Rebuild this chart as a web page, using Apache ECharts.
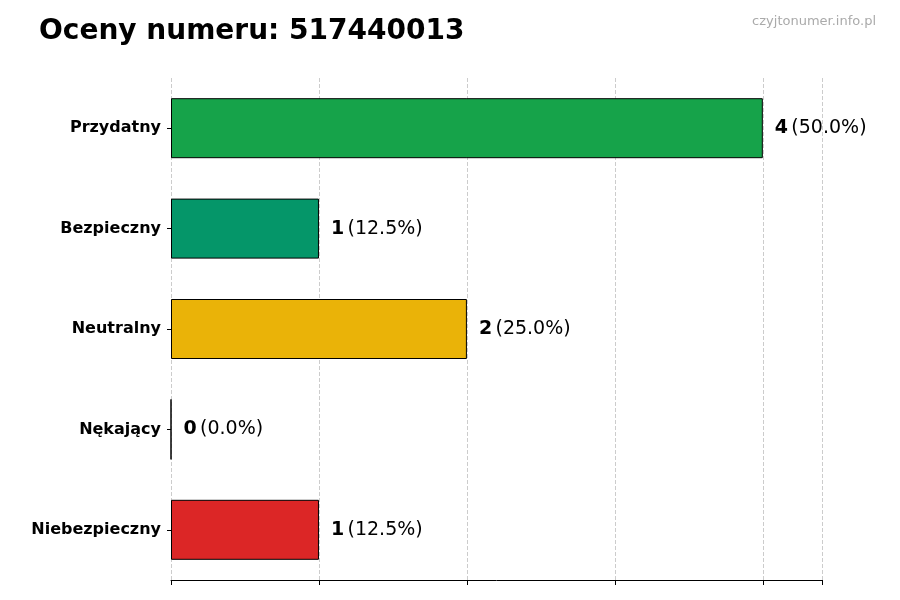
<!DOCTYPE html>
<html><head><meta charset="utf-8">
<script src="https://cdn.jsdelivr.net/npm/echarts@6/dist/echarts.min.js"></script>
<style>html,body{margin:0;padding:0;background:#fff}#c{width:900px;height:600px}</style>
</head><body><div id="c"></div>
<script>
const categories = ["Przydatny","Bezpieczny","Neutralny","Nękający","Niebezpieczny"];
const values = [4,1,2,0,1];
const percents = ["50.0%","12.5%","25.0%","0.0%","12.5%"];
const colors = ["#16a34a","#059669","#eab308","#9ca3af","#dc2626"];
const chart = echarts.init(document.getElementById('c'));
chart.setOption({
  animation:false,
  title:[{text:"Oceny numeru: 517440013",left:34,top:13,textStyle:{fontFamily:"DejaVu Sans",fontSize:28,fontWeight:"bold",color:"#000"}},
         {text:"czyjtonumer.info.pl",right:19,top:10,textStyle:{fontFamily:"DejaVu Sans",fontSize:13,fontWeight:"normal",color:"#aaa"}}],
  grid:{left:171,right:78,top:78,bottom:20},
  xAxis:{type:"value",min:0,max:4.4,interval:1,
    axisLine:{show:true,lineStyle:{color:"#000"}},axisTick:{show:true,length:5,lineStyle:{color:"#000"}},
    axisLabel:{show:false},splitLine:{show:true,lineStyle:{type:"dashed",color:"#ccc"}}},
  yAxis:{type:"category",inverse:true,data:categories,
    axisLine:{show:false},axisTick:{show:true,alignWithLabel:true,length:4,lineStyle:{color:"#000"}},
    axisLabel:{fontFamily:"DejaVu Sans",fontSize:16,fontWeight:"bold",color:"#000",margin:10}},
  series:[{type:"bar",barWidth:60,
    data:values.map((v,i)=>({value:v,itemStyle:{color:colors[i],borderColor:"#000",borderWidth:1}})),
    label:{show:true,position:"right",distance:12,
      formatter:p=>"{b|"+values[p.dataIndex]+"} {n|("+percents[p.dataIndex]+")}",
      rich:{b:{fontFamily:"DejaVu Sans",fontSize:19,fontWeight:"bold",color:"#000"},
            n:{fontFamily:"DejaVu Sans",fontSize:19,color:"#000"}}}}]
});
</script></body></html>
